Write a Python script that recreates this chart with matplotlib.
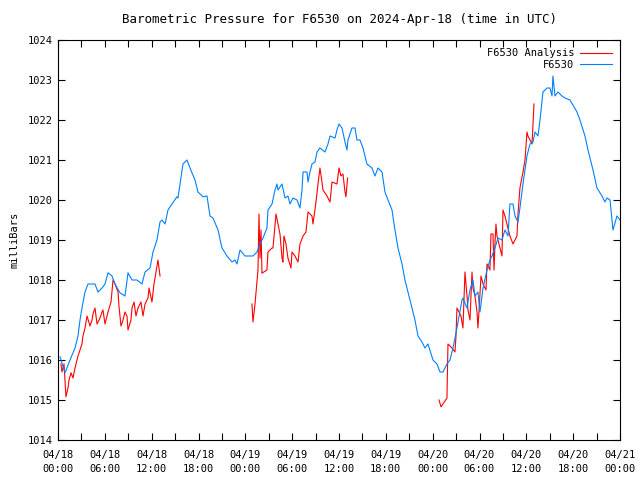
import numpy as np
import pandas as pd
import matplotlib
matplotlib.use('Agg')
from matplotlib import pyplot as plt
import matplotlib.dates as mdates

# hours since 2024-04-18 00:00 UTC
station_hours = [0.26, 0.90, 1.54, 2.18, 2.56, 2.82, 3.07, 3.46, 3.84, 4.74, 5.12, 5.64,
                 6.02, 6.41, 6.92, 7.30, 7.94, 8.58, 8.97, 9.48, 10.12, 10.76, 11.15, 11.79,
                 12.17, 12.68, 13.07, 13.32, 13.71, 14.09, 14.60, 15.24, 15.37, 15.63, 16.01,
                 16.53, 16.91, 17.55, 17.93, 18.58, 19.09, 19.47, 19.86, 20.50, 21.01, 21.65,
                 22.29, 22.67, 22.93, 23.32, 23.96, 24.98, 25.49, 25.88, 26.26, 26.77, 26.90,
                 27.42, 27.80, 28.05, 28.18, 28.70, 29.08, 29.46, 29.72, 30.11, 30.62, 31.00,
                 31.26, 31.39, 31.90, 32.03, 32.28, 32.54, 32.92, 33.18, 33.56, 34.20, 34.59,
                 34.85, 35.49, 35.74, 36.00, 36.38, 36.77, 37.02, 37.15, 37.66, 38.05, 38.30,
                 38.69, 39.07, 39.58, 40.22, 40.61, 40.99, 41.51, 41.89, 42.28, 42.79, 43.17,
                 43.56, 44.07, 44.45, 44.84, 45.35, 45.73, 46.12, 46.63, 47.01, 47.40, 48.04,
                 48.55, 48.94, 49.32, 49.83, 50.22, 50.60, 51.11, 51.76, 51.88, 52.40, 52.78,
                 53.16, 53.42, 53.80, 54.06, 54.45, 54.96, 55.34, 55.60, 55.98, 56.37, 56.88,
                 57.26, 57.65, 57.90, 58.29, 58.55, 58.93, 59.18, 59.57, 60.08, 60.47, 60.85,
                 61.11, 61.49, 61.75, 62.13, 62.65, 63.03, 63.29, 63.41, 63.67, 64.05, 64.57,
                 64.95, 65.59, 66.49, 66.87, 67.51, 67.90, 68.54, 69.05, 69.69, 70.07, 70.33,
                 70.72, 71.10, 71.61, 72.0]
station_mb = [1016.08, 1015.68, 1016.0, 1016.3, 1016.6, 1017.0, 1017.3, 1017.7, 1017.9, 1017.9,
              1017.7, 1017.8, 1017.9, 1018.18, 1018.1, 1017.9, 1017.68, 1017.6, 1018.18, 1018.0,
              1018.0, 1017.9, 1018.2, 1018.3, 1018.7, 1019.0, 1019.45, 1019.5, 1019.4, 1019.75,
              1019.9, 1020.08, 1020.05, 1020.4, 1020.9, 1021.0, 1020.8, 1020.5, 1020.2, 1020.08,
              1020.1, 1019.6, 1019.55, 1019.25, 1018.8, 1018.6, 1018.45, 1018.5, 1018.4, 1018.75,
              1018.6, 1018.6, 1018.7, 1018.9, 1019.05, 1019.3, 1019.75, 1019.9, 1020.25, 1020.4,
              1020.25, 1020.4, 1020.05, 1020.1, 1019.9, 1020.05, 1020.0, 1019.8, 1020.25, 1020.7,
              1020.7, 1020.45, 1020.7, 1020.9, 1020.95, 1021.2, 1021.3, 1021.2, 1021.4, 1021.6,
              1021.55, 1021.75, 1021.9, 1021.8, 1021.45, 1021.25, 1021.5, 1021.8, 1021.8, 1021.5,
              1021.5, 1021.3, 1020.9, 1020.8, 1020.6, 1020.8, 1020.7, 1020.2, 1020.0, 1019.75,
              1019.25, 1018.8, 1018.4, 1018.0, 1017.7, 1017.3, 1017.0, 1016.6, 1016.45, 1016.3,
              1016.4, 1016.0, 1015.9, 1015.7, 1015.7, 1015.9, 1016.0, 1016.3, 1016.8, 1017.5,
              1017.55, 1017.3, 1017.75, 1018.0, 1017.6, 1017.7, 1017.2, 1017.8, 1018.25, 1018.5,
              1018.6, 1018.8, 1019.05, 1019.0, 1019.25, 1019.1, 1019.9, 1019.9, 1019.6, 1019.45,
              1019.8, 1020.4, 1021.1, 1021.4, 1021.45, 1021.7, 1021.6, 1022.0, 1022.7, 1022.8,
              1022.8, 1022.6, 1023.1, 1022.6, 1022.7, 1022.6, 1022.55, 1022.5, 1022.2, 1022.0,
              1021.6, 1021.25, 1020.75, 1020.3, 1020.1, 1019.95, 1020.05, 1020.0, 1019.25,
              1019.6, 1019.5]

# analysis series, NaN marks the gaps
analysis_hours = [0.38, 0.51, 0.77, 1.02, 1.28, 1.41, 1.67, 1.92, 2.18, 2.56, 2.82, 3.07, 3.20,
                  3.46, 3.72, 4.10, 4.36, 4.48, 4.74, 5.00, 5.38, 5.64, 5.76, 6.02, 6.41, 6.79,
                  7.05, 7.30, 7.69, 7.81, 8.07, 8.33, 8.58, 8.84, 8.97, 9.35, 9.48, 9.74, 9.99,
                  10.25, 10.63, 10.89, 11.15, 11.53, 11.66, 12.04, 12.30, 12.55, 12.81, 12.94,
                  13.07, 18.0,
                  24.85, 24.98, 25.24, 25.37, 25.62, 25.75, 25.88, 26.01, 26.13, 26.77, 26.90,
                  27.42, 27.54, 27.93, 28.18, 28.44, 28.70, 28.82, 28.95, 29.21, 29.46, 29.85,
                  29.98, 30.36, 30.75, 31.00, 31.39, 31.77, 32.03, 32.54, 32.67, 33.05, 33.31,
                  33.56, 33.82, 33.95, 34.46, 34.85, 35.10, 35.74, 36.00, 36.25, 36.51, 36.77,
                  36.89, 37.1, 42.0,
                  48.81, 49.07, 49.32, 49.83, 49.96, 50.47, 50.86, 50.99, 51.11, 51.37, 51.63,
                  51.88, 52.14, 52.40, 52.52, 52.78, 53.04, 53.16, 53.42, 53.68, 53.80, 53.93,
                  54.19, 54.45, 54.83, 54.96, 55.34, 55.47, 55.73, 55.86, 55.98, 56.11, 56.24,
                  56.62, 56.88, 57.01, 57.26, 57.65, 57.90, 58.29, 58.80, 58.93, 59.18, 59.57,
                  59.83, 60.08, 60.21, 60.73, 60.85, 60.98]
analysis_mb = [1015.9, 1015.7, 1015.9, 1015.08, 1015.3, 1015.5, 1015.68, 1015.55, 1015.8, 1016.1,
               1016.25, 1016.4, 1016.6, 1016.8, 1017.1, 1016.85, 1017.0, 1017.15, 1017.3, 1016.9,
               1017.05, 1017.2, 1017.25, 1016.9, 1017.2, 1017.45, 1018.0, 1017.9, 1017.7, 1017.35,
               1016.85, 1017.0, 1017.2, 1017.1, 1016.75, 1017.0, 1017.3, 1017.45, 1017.1, 1017.3,
               1017.45, 1017.1, 1017.4, 1017.55, 1017.8, 1017.45, 1017.9, 1018.2, 1018.5, 1018.3,
               1018.1, np.nan,
               1017.4, 1016.95, 1017.4, 1017.7, 1018.25, 1019.65, 1018.55, 1019.25, 1018.17,
               1018.25, 1018.7, 1018.8, 1018.8, 1019.65, 1019.4, 1019.15, 1018.55, 1018.45, 1019.1,
               1018.9, 1018.55, 1018.3, 1018.7, 1018.6, 1018.45, 1018.9, 1019.1, 1019.2, 1019.7,
               1019.6, 1019.4, 1019.95, 1020.4, 1020.8, 1020.45, 1020.25, 1020.1, 1019.95, 1020.45,
               1020.4, 1020.8, 1020.6, 1020.65, 1020.2, 1020.08, 1020.55, np.nan,
               1015.0, 1014.83, 1014.9, 1015.05, 1016.4, 1016.3, 1016.2, 1016.6, 1017.3, 1017.2,
               1017.1, 1016.8, 1018.2, 1017.6, 1017.25, 1017.0, 1018.2, 1017.8, 1017.6, 1017.2,
               1016.8, 1017.2, 1018.1, 1017.9, 1017.75, 1018.4, 1018.25, 1019.15, 1019.15, 1018.25,
               1018.9, 1019.4, 1019.1, 1018.8, 1018.6, 1019.75, 1019.6, 1019.3, 1019.1, 1018.9,
               1019.1, 1019.65, 1020.3, 1020.7, 1021.0, 1021.7, 1021.6, 1021.4, 1021.9, 1022.4]

start = pd.Timestamp('2024-04-18 00:00')
station_t = start + pd.to_timedelta(station_hours, unit='h')
analysis_t = start + pd.to_timedelta(analysis_hours, unit='h')

plt.rcParams['font.family'] = 'DejaVu Sans Mono'
plt.rcParams['font.size'] = 7.5

fig = plt.figure(figsize=(6.4, 4.8), dpi=100)
ax = fig.add_axes([58 / 640, 40 / 480, 562 / 640, 400 / 480])

ax.plot(analysis_t, analysis_mb, color='#ff0000', lw=0.8, label='F6530 Analysis')
ax.plot(station_t, station_mb, color='#0080ff', lw=0.8, label='F6530')

ax.set_xlim(start, start + pd.Timedelta(hours=72))
ax.set_ylim(1014, 1024)
ax.set_yticks(np.arange(1014, 1025, 1))
ax.xaxis.set_major_locator(mdates.HourLocator(byhour=[0, 6, 12, 18]))
ax.xaxis.set_minor_locator(mdates.HourLocator(byhour=[3, 9, 15, 21]))
ax.xaxis.set_major_formatter(mdates.DateFormatter('%m/%d\n%H:%M'))
ax.tick_params(which='both', direction='in', top=True, right=True, length=5, width=0.8)
ax.tick_params(axis='x', pad=7)
for lbl in ax.get_xticklabels():
    lbl.set_linespacing(1.5)
for s in ax.spines.values():
    s.set_linewidth(0.8)

ax.set_ylabel('milliBars', labelpad=6)
ax.set_title('Barometric Pressure for F6530 on 2024-Apr-18 (time in UTC)', pad=12)

leg = ax.legend(loc='upper right', frameon=False, markerfirst=False, handlelength=3.0,
                handletextpad=0.6, borderaxespad=0.4, labelspacing=0.15)
for t in leg.get_texts():
    t.set_ha('right')

fig.savefig('out.png', dpi=100)
